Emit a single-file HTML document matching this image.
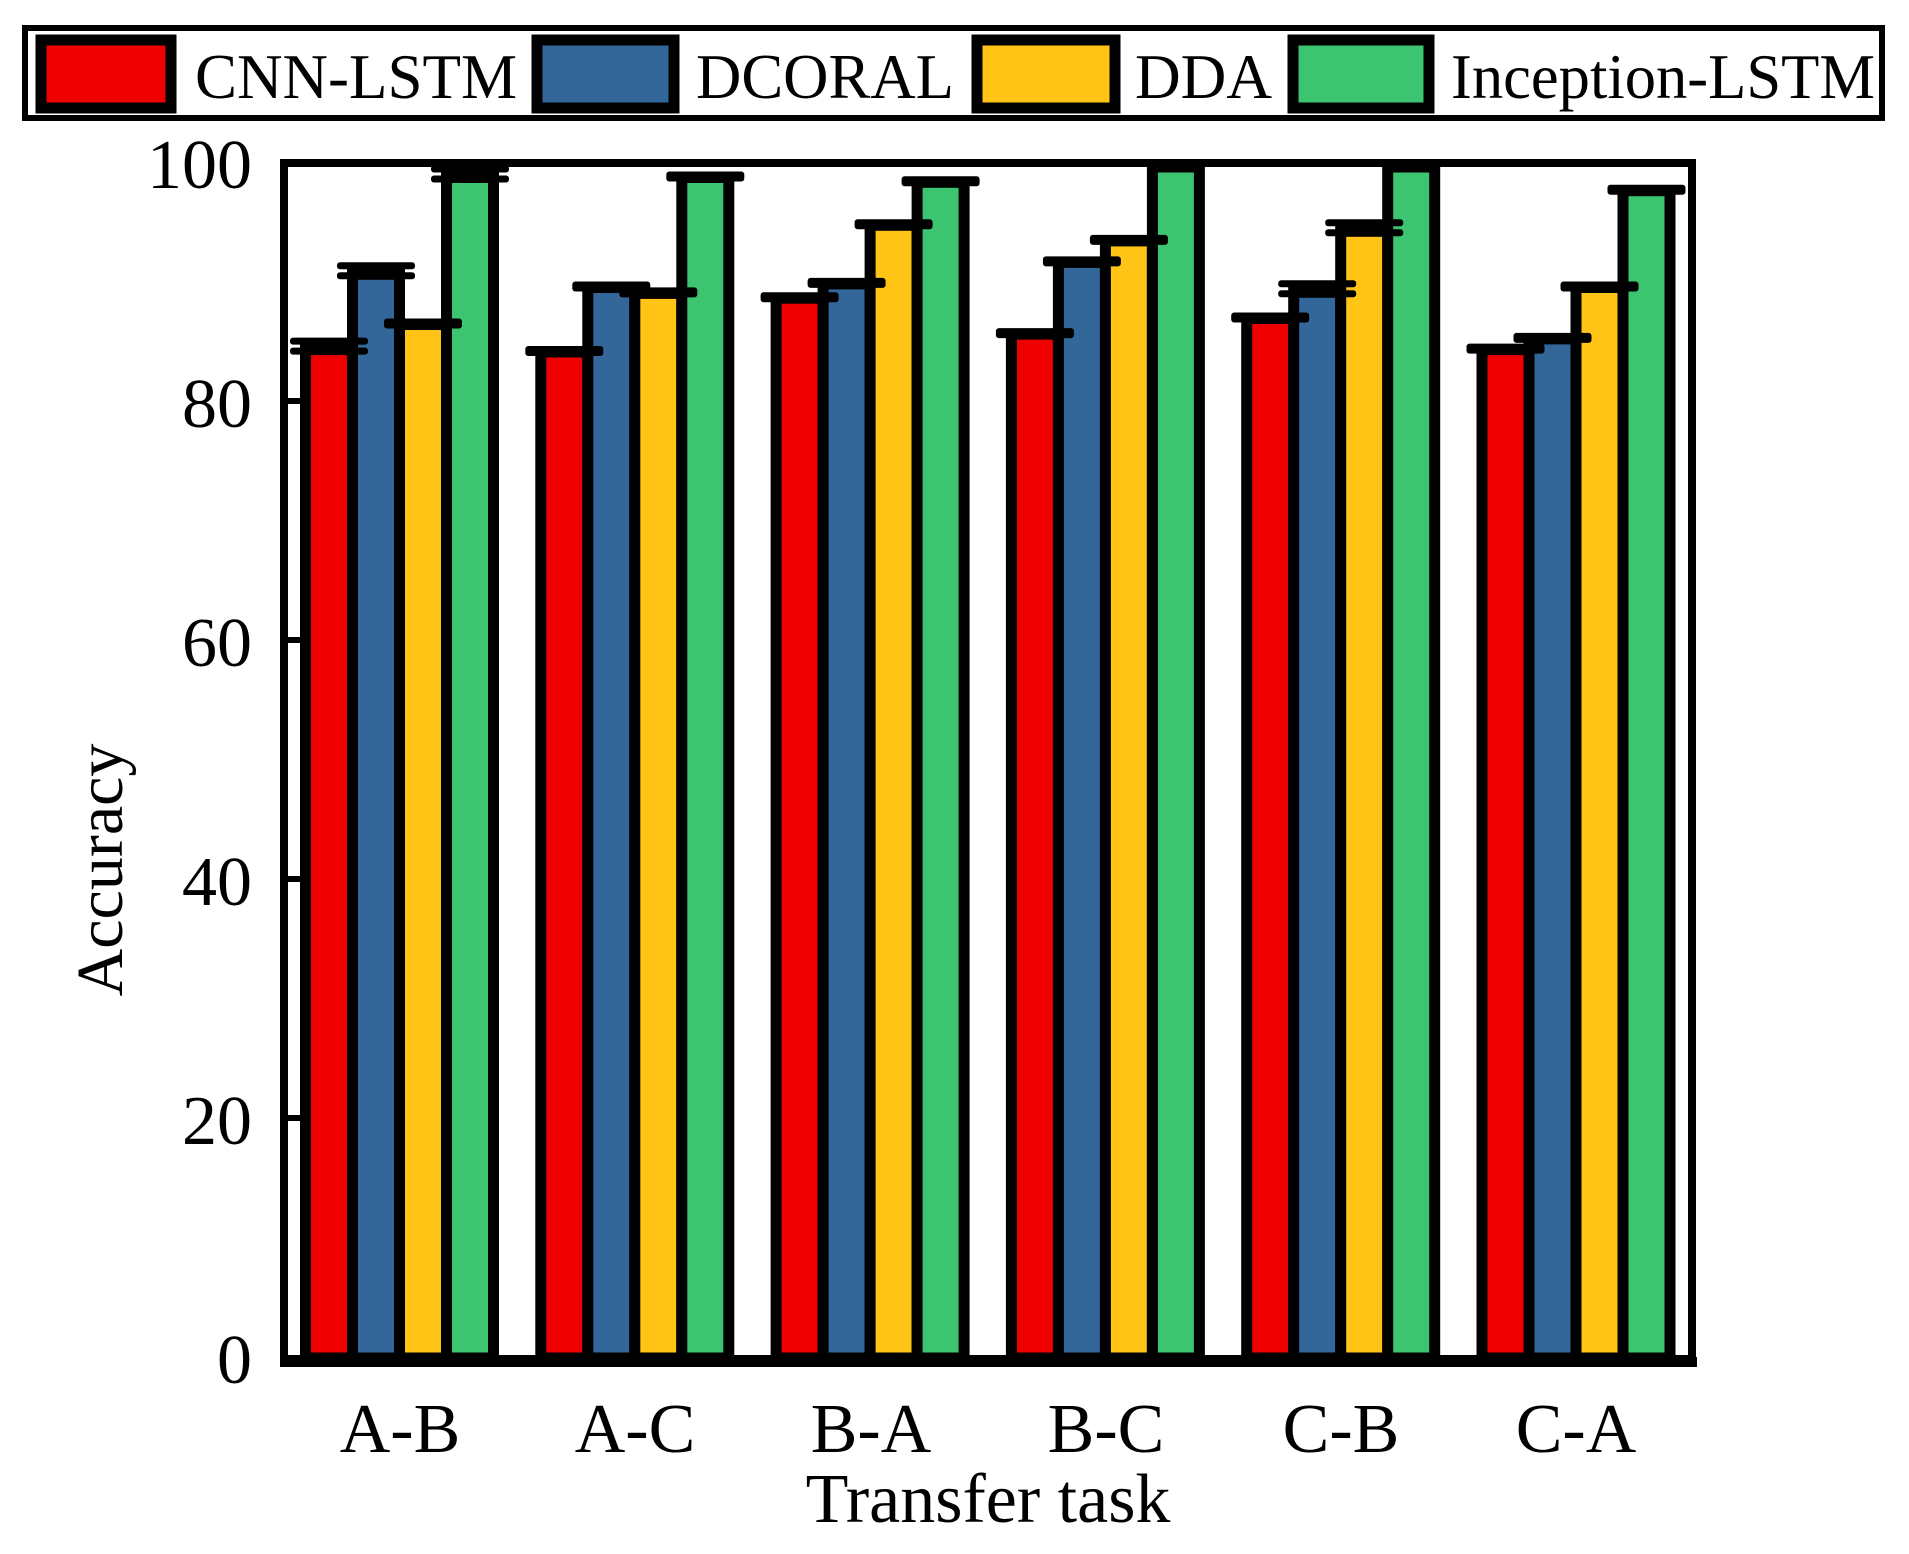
<!DOCTYPE html>
<html><head><meta charset="utf-8"><style>body{margin:0;background:#fff}svg{display:block}text{font-family:"Liberation Serif",serif;fill:#000}</style></head>
<body>
<svg width="1909" height="1554" viewBox="0 0 1909 1554" xmlns="http://www.w3.org/2000/svg">
<rect x="25" y="28" width="1857" height="90" fill="#fff" stroke="#000" stroke-width="6"/>
<rect x="41" y="40" width="130" height="68" fill="#EE0000" stroke="#000" stroke-width="11"/>
<text x="195" y="98" font-size="64" textLength="322" lengthAdjust="spacingAndGlyphs">CNN-LSTM</text>
<rect x="537" y="40" width="137" height="68" fill="#336699" stroke="#000" stroke-width="11"/>
<text x="696" y="98" font-size="64" textLength="258" lengthAdjust="spacingAndGlyphs">DCORAL</text>
<rect x="977" y="40" width="138" height="68" fill="#FFC416" stroke="#000" stroke-width="11"/>
<text x="1135" y="98" font-size="64" textLength="137" lengthAdjust="spacingAndGlyphs">DDA</text>
<rect x="1293" y="40" width="136" height="68" fill="#3CC471" stroke="#000" stroke-width="11"/>
<text x="1451" y="98" font-size="64" textLength="424" lengthAdjust="spacingAndGlyphs">Inception-LSTM</text>

<g stroke="#000" stroke-width="11">
<rect x="305.5" y="349.6" width="47" height="1008.4" fill="#EE0000"/>
<rect x="352.5" y="274.3" width="47" height="1083.7" fill="#336699"/>
<rect x="399.5" y="324.5" width="47" height="1033.5" fill="#FFC416"/>
<rect x="446.5" y="177.5" width="47" height="1180.5" fill="#3CC471"/>

<rect x="540.8" y="352" width="47" height="1006" fill="#EE0000"/>
<rect x="587.8" y="287.5" width="47" height="1070.5" fill="#336699"/>
<rect x="634.8" y="293.4" width="47" height="1064.6" fill="#FFC416"/>
<rect x="681.8" y="177.5" width="47" height="1180.5" fill="#3CC471"/>

<rect x="776.1" y="298.2" width="47" height="1059.8" fill="#EE0000"/>
<rect x="823.1" y="283.9" width="47" height="1074.1" fill="#336699"/>
<rect x="870.1" y="225.3" width="47" height="1132.7" fill="#FFC416"/>
<rect x="917.1" y="182.3" width="47" height="1175.7" fill="#3CC471"/>

<rect x="1011.4" y="334.1" width="47" height="1023.9" fill="#EE0000"/>
<rect x="1058.4" y="262.4" width="47" height="1095.6" fill="#336699"/>
<rect x="1105.4" y="240.9" width="47" height="1117.1" fill="#FFC416"/>
<rect x="1152.4" y="167" width="47" height="1191" fill="#3CC471"/>

<rect x="1246.7" y="318.5" width="47" height="1039.5" fill="#EE0000"/>
<rect x="1293.7" y="292.3" width="47" height="1065.7" fill="#336699"/>
<rect x="1340.7" y="231.3" width="47" height="1126.7" fill="#FFC416"/>
<rect x="1387.7" y="167" width="47" height="1191" fill="#3CC471"/>

<rect x="1482" y="349.6" width="47" height="1008.4" fill="#EE0000"/>
<rect x="1529" y="338.9" width="47" height="1019.1" fill="#336699"/>
<rect x="1576" y="287.5" width="47" height="1070.5" fill="#FFC416"/>
<rect x="1623" y="190.7" width="47" height="1167.3" fill="#3CC471"/>
</g>
<g fill="#000">
<rect x="290" y="337.6" width="78" height="7" rx="3"/><rect x="290" y="347.6" width="78" height="7" rx="3"/>
<rect x="337" y="262.3" width="78" height="7" rx="3"/><rect x="337" y="272.3" width="78" height="7" rx="3"/>
<rect x="384" y="318.5" width="78" height="10" rx="3"/>
<rect x="431" y="165.5" width="78" height="7" rx="3"/><rect x="431" y="175.5" width="78" height="7" rx="3"/>

<rect x="525.3" y="346" width="78" height="10" rx="3"/>
<rect x="572.3" y="281.5" width="78" height="10" rx="3"/>
<rect x="619.3" y="287.4" width="78" height="10" rx="3"/>
<rect x="666.3" y="171.5" width="78" height="10" rx="3"/>

<rect x="760.6" y="292.2" width="78" height="10" rx="3"/>
<rect x="807.6" y="277.9" width="78" height="10" rx="3"/>
<rect x="854.6" y="219.3" width="78" height="10" rx="3"/>
<rect x="901.6" y="176.3" width="78" height="10" rx="3"/>

<rect x="995.9" y="328.1" width="78" height="10" rx="3"/>
<rect x="1042.9" y="256.4" width="78" height="10" rx="3"/>
<rect x="1089.9" y="234.9" width="78" height="10" rx="3"/>

<rect x="1231.2" y="312.5" width="78" height="10" rx="3"/>
<rect x="1278.2" y="280.3" width="78" height="7" rx="3"/><rect x="1278.2" y="290.3" width="78" height="7" rx="3"/>
<rect x="1325.2" y="219.3" width="78" height="7" rx="3"/><rect x="1325.2" y="229.3" width="78" height="7" rx="3"/>

<rect x="1466.5" y="343.6" width="78" height="10" rx="3"/>
<rect x="1513.5" y="332.9" width="78" height="10" rx="3"/>
<rect x="1560.5" y="281.5" width="78" height="10" rx="3"/>
<rect x="1607.5" y="184.7" width="78" height="10" rx="3"/>
</g>

<rect x="284" y="163" width="1408" height="1196" fill="none" stroke="#000" stroke-width="8"/>
<line x1="280" y1="1362" x2="1697" y2="1362" stroke="#000" stroke-width="10"/>
<g stroke="#000" stroke-width="6">
<line x1="284" y1="1118" x2="300" y2="1118"/><line x1="284" y1="879" x2="300" y2="879"/>
<line x1="284" y1="640" x2="300" y2="640"/><line x1="284" y1="401" x2="300" y2="401"/>
</g>
<g font-size="70" text-anchor="end">
<text x="252" y="1383">0</text><text x="252" y="1144">20</text><text x="252" y="905">40</text>
<text x="252" y="666">60</text><text x="252" y="427">80</text><text x="252" y="188">100</text>
</g>
<text transform="translate(122,870) rotate(-90)" font-size="66" text-anchor="middle">Accuracy</text>
<g font-size="70" text-anchor="middle">
<text x="400" y="1452">A-B</text><text x="635" y="1452">A-C</text><text x="871" y="1452">B-A</text>
<text x="1106" y="1452">B-C</text><text x="1341" y="1452">C-B</text><text x="1576" y="1452">C-A</text>
</g>
<text x="988" y="1522" font-size="70" text-anchor="middle">Transfer task</text>
</svg>
</body></html>
